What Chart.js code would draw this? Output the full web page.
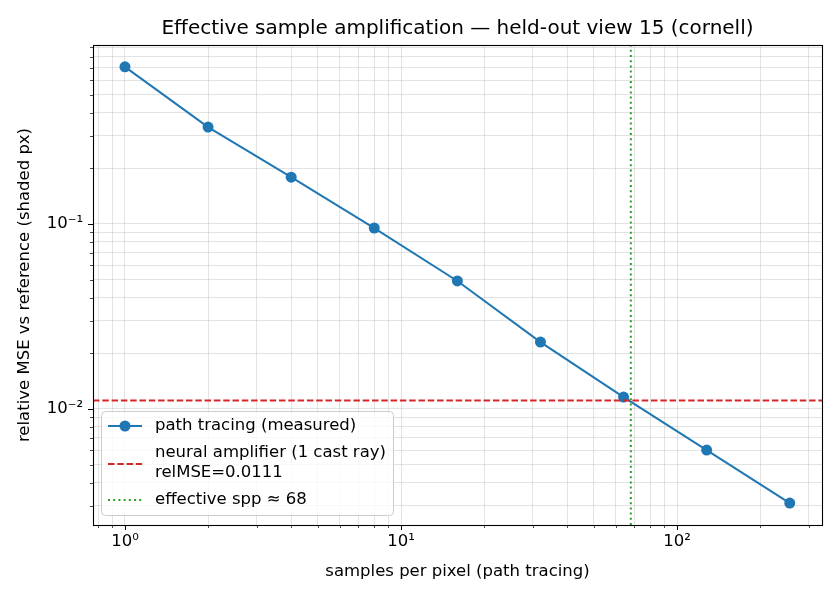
<!DOCTYPE html>
<html>
<head>
<meta charset="utf-8">
<script src="https://cdn.jsdelivr.net/npm/chart.js@4.4.0/dist/chart.umd.min.js"></script>
<style>
  html, body { margin: 0; padding: 0; background: #fff; }
  #wrap { width: 840px; height: 600px; }
</style>
</head>
<body>
<div id="wrap"><canvas id="c" width="840" height="600"></canvas></div>
<script>
// measured curve
const spp = [1, 2, 4, 8, 16, 32, 64, 128, 256]
const relMse = [0.707, 0.334, 0.179, 0.0951, 0.0492, 0.0230, 0.0116, 0.0060, 0.0031]

// reference lines
const neuralRelMse = 0.0111
const effectiveSpp = 68

// axis limits and major tick labels
const xRange = [0.766, 335]
const yRange = [0.00236, 0.928]
const xMajorTicks = [1, 10, 100]
const xTickLabels = ["10\u2070", "10\u00b9", "10\u00b2"]
const yMajorTicks = [0.01, 0.1]
const yTickLabels = ["10\u207b\u00b2", "10\u207b\u00b9"]

const FONT = "'DejaVu Sans', 'Liberation Sans', sans-serif"
const FS = 16.5

// 1..9 x 10^e inside [min, max]
function logTicks(min, max) {
  const out = []
  for (let e = Math.floor(Math.log10(min)); e <= Math.ceil(Math.log10(max)); e++) {
    for (let m = 1; m <= 9; m++) {
      const v = Number((m * Math.pow(10, e)).toPrecision(3))
      if (v >= min && v <= max) out.push(v)
    }
  }
  return out
}

function majorIndex(list, v) {
  return list.findIndex((t) => Math.abs(t - v) / t < 1e-9)
}

const gridOpts = {
  color: "rgba(176,176,176,0.45)",
  lineWidth: 0.8,
  drawTicks: false,
}

// frame, tick marks, title and legend in matplotlib style
const decorPlugin = {
  id: "decor",
  afterDraw(chart) {
    const ctx = chart.ctx
    const a = chart.chartArea
    const xs = chart.scales.x
    const ys = chart.scales.y
    ctx.save()

    // tick marks
    ctx.strokeStyle = "#000"
    xs.ticks.forEach((t) => {
      const major = majorIndex(xMajorTicks, t.value) >= 0
      const px = Math.round(xs.getPixelForValue(t.value)) + 0.5
      ctx.lineWidth = major ? 1 : 0.7
      ctx.beginPath()
      ctx.moveTo(px, a.bottom)
      ctx.lineTo(px, a.bottom + (major ? 5 : 3))
      ctx.stroke()
    })
    ys.ticks.forEach((t) => {
      const major = majorIndex(yMajorTicks, t.value) >= 0
      const py = Math.round(ys.getPixelForValue(t.value)) + 0.5
      ctx.lineWidth = major ? 1 : 0.7
      ctx.beginPath()
      ctx.moveTo(a.left, py)
      ctx.lineTo(a.left - (major ? 5 : 3), py)
      ctx.stroke()
    })

    // frame
    ctx.lineWidth = 1.1
    ctx.strokeRect(Math.round(a.left) + 0.5, Math.round(a.top) + 0.5, Math.round(a.right - a.left), Math.round(a.bottom - a.top))

    // title
    ctx.fillStyle = "#000"
    ctx.font = "20px " + FONT
    ctx.textAlign = "center"
    ctx.textBaseline = "middle"
    ctx.fillText("Effective sample amplification \u2014 held-out view 15 (cornell)", (a.left + a.right) / 2, 29)

    // legend
    const lx = 101.5, ly = 411.5, lw = 292, lh = 104, r = 4
    ctx.beginPath()
    ctx.moveTo(lx + r, ly)
    ctx.arcTo(lx + lw, ly, lx + lw, ly + lh, r)
    ctx.arcTo(lx + lw, ly + lh, lx, ly + lh, r)
    ctx.arcTo(lx, ly + lh, lx, ly, r)
    ctx.arcTo(lx, ly, lx + lw, ly, r)
    ctx.closePath()
    ctx.fillStyle = "rgba(255,255,255,0.8)"
    ctx.fill()
    ctx.strokeStyle = "#cccccc"
    ctx.lineWidth = 1
    ctx.stroke()

    const hx0 = 108, hx1 = 142, tx = 155
    const ds = chart.data.datasets
    const rows = [
      { y: 426, text: [ds[0].label], textY: [426] },
      { y: 464, text: ds[1].label.split("\n"), textY: [453, 473] },
      { y: 500, text: [ds[2].label], textY: [500] },
    ]
    rows.forEach((row, i) => {
      const d = ds[i]
      ctx.save()
      ctx.strokeStyle = d.borderColor
      ctx.lineWidth = d.borderWidth
      ctx.setLineDash(d.borderDash || [])
      ctx.beginPath()
      ctx.moveTo(hx0, row.y)
      ctx.lineTo(hx1, row.y)
      ctx.stroke()
      if (d.pointRadius > 0) {
        ctx.fillStyle = d.backgroundColor
        ctx.beginPath()
        ctx.arc((hx0 + hx1) / 2, row.y, d.pointRadius, 0, Math.PI * 2)
        ctx.fill()
      }
      ctx.restore()
      ctx.fillStyle = "#000"
      ctx.font = FS + "px " + FONT
      ctx.textAlign = "left"
      ctx.textBaseline = "middle"
      row.text.forEach((s, k) => ctx.fillText(s, tx, row.textY[k]))
    })

    ctx.restore()
  },
}

new Chart(document.getElementById("c").getContext("2d"), {
  type: "scatter",
  data: {
    datasets: [
      {
        label: "path tracing (measured)",
        data: spp.map((x, i) => ({ x, y: relMse[i] })),
        showLine: true,
        borderColor: "#1f77b4",
        backgroundColor: "#1f77b4",
        borderWidth: 2,
        pointRadius: 5.5,
        pointHoverRadius: 5.5,
        pointBorderWidth: 0,
        order: 3,
      },
      {
        label: "neural amplifier (1 cast ray)\nrelMSE=" + neuralRelMse.toFixed(4),
        data: [{ x: xRange[0], y: neuralRelMse }, { x: xRange[1], y: neuralRelMse }],
        showLine: true,
        borderColor: "#d62728",
        borderWidth: 2,
        borderDash: [6.5, 2.8],
        pointRadius: 0,
        order: 2,
      },
      {
        label: "effective spp \u2248 " + effectiveSpp,
        data: [{ x: effectiveSpp, y: yRange[0] }, { x: effectiveSpp, y: yRange[1] }],
        showLine: true,
        borderColor: "#2ca02c",
        borderWidth: 2,
        borderDash: [2, 3.2],
        pointRadius: 0,
        order: 1,
      },
    ],
  },
  options: {
    responsive: false,
    animation: false,
    events: [],
    layout: { padding: { top: 45, right: 18, left: 0, bottom: 0 } },
    plugins: {
      legend: { display: false },
      tooltip: { enabled: false },
      title: { display: false },
    },
    scales: {
      x: {
        type: "logarithmic",
        min: xRange[0],
        max: xRange[1],
        afterBuildTicks: (s) => {
          s.ticks = logTicks(xRange[0], xRange[1]).map((v) => ({ value: v }))
        },
        afterFit: (s) => {
          s.height = 75
        },
        grid: gridOpts,
        border: { display: false },
        ticks: {
          autoSkip: false,
          maxRotation: 0,
          padding: 7,
          color: "#000",
          font: { family: FONT, size: FS },
          callback: (v) => {
            const i = majorIndex(xMajorTicks, v)
            return i >= 0 ? xTickLabels[i] : ""
          },
        },
        title: {
          display: true,
          text: "samples per pixel (path tracing)",
          color: "#000",
          font: { family: FONT, size: FS },
          padding: { top: 0, bottom: 18.1 },
        },
      },
      y: {
        type: "logarithmic",
        min: yRange[0],
        max: yRange[1],
        afterBuildTicks: (s) => {
          s.ticks = logTicks(yRange[0], yRange[1]).map((v) => ({ value: v }))
        },
        afterFit: (s) => {
          s.width = 93
        },
        grid: gridOpts,
        border: { display: false },
        ticks: {
          autoSkip: false,
          padding: 10,
          color: "#000",
          font: { family: FONT, size: FS },
          callback: (v) => {
            const i = majorIndex(yMajorTicks, v)
            return i >= 0 ? yTickLabels[i] : ""
          },
        },
        title: {
          display: true,
          text: "relative MSE vs reference (shaded px)",
          color: "#000",
          font: { family: FONT, size: FS },
          padding: { top: 15.1, bottom: 0 },
        },
      },
    },
  },
  plugins: [decorPlugin],
})
</script>
</body>
</html>
